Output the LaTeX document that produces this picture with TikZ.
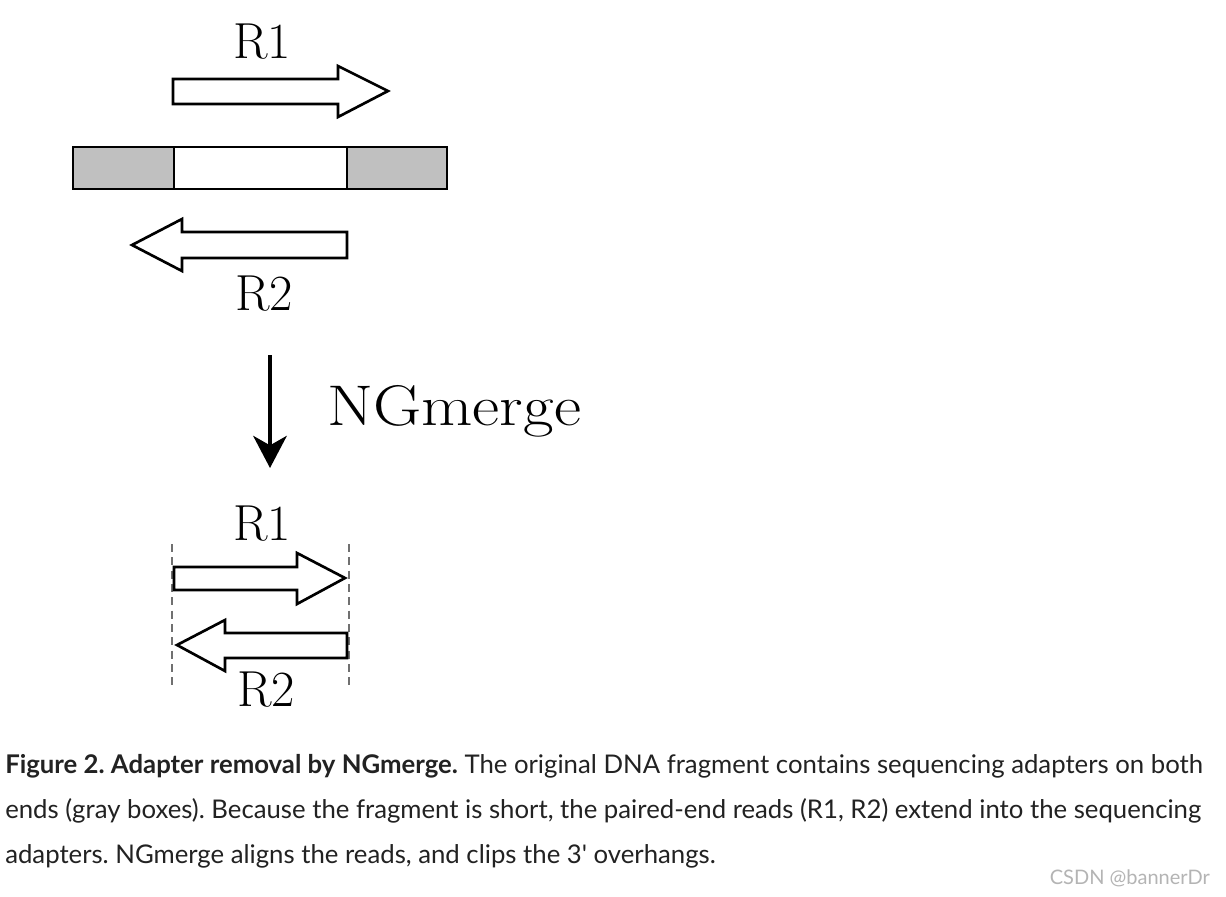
\documentclass[tikz,border=0pt]{standalone}
\usepackage{fontspec}
\usetikzlibrary{arrows.meta}
\newfontfamily\capfont{Lato}
\newfontfamily\wmfont{Lato}
\newfontfamily\ngfont[FakeStretch=1.16]{Latin Modern Roman}
\definecolor{adgray}{HTML}{C0C0C0}
\definecolor{dashgray}{HTML}{707070}
\definecolor{wmgray}{HTML}{B4B4B4}
\definecolor{captext}{HTML}{222222}
\tikzset{
  readarrow/.style={draw=black, fill=white, line width=2pt, line join=miter},
  barpart/.style={draw=black, line width=2.1pt},
  lbl/.style={inner sep=0pt, font=\fontsize{38}{40}\selectfont, anchor=base},
  guide/.style={draw=dashgray, line width=2pt, dash pattern=on 6pt off 4pt},
  capline/.style={inner sep=0pt, anchor=base west, text=captext, font=\capfont\fontsize{19.3}{22}\selectfont\frenchspacing},
}
\begin{document}
\begin{tikzpicture}[x=0.75pt, y=-0.75pt]
\useasboundingbox[fill=white] (0,0) rectangle (1226,896);
% top labels
\node[lbl] (r1top) at (262,58) {R1};
% R1 arrow
\draw[readarrow] (173,79) -- (338,79) -- (338,66) -- (388,91) -- (338,117) -- (338,104) -- (173,104) -- cycle;
% fragment
\draw[barpart, fill=adgray] (73,147) rectangle (174,189);
\draw[barpart, fill=white] (174,147) rectangle (347,189);
\draw[barpart, fill=adgray] (347,147) rectangle (447,189);
% R2 arrow
\draw[readarrow] (347,232) -- (182,232) -- (182,219) -- (132,245) -- (182,271) -- (182,258) -- (347,258) -- cycle;
\node[lbl] (r2top) at (264,310) {R2};
% down arrow
\coordinate (dstart) at (270,355);
\coordinate (dend) at (270,468);
\draw[line width=3.6pt, -{Stealth[length=24pt, width=25pt, inset=7pt]}] (dstart) -- (dend);
\node[inner sep=0pt, anchor=base west, font=\ngfont\fontsize{43}{46}\selectfont] (ng) at (327,425) {NGmerge};
% bottom
\node[lbl] (r1bot) at (262,540) {R1};
\coordinate (gl1) at (172,544); \coordinate (gl2) at (172,686);
\coordinate (gr1) at (349,544); \coordinate (gr2) at (349,686);
\draw[guide] (gl1) -- (gl2);
\draw[guide] (gr1) -- (gr2);
\draw[readarrow] (174,567) -- (297,567) -- (297,553) -- (345,578) -- (297,604) -- (297,590) -- (174,590) -- cycle;
\draw[readarrow] (347,633) -- (225,633) -- (225,620) -- (177,645) -- (225,671) -- (225,658) -- (347,658) -- cycle;
\node[lbl] (r2bot) at (266,706) {R2};
% caption
\node[capline] (c1) at (5,773) {\textbf{Figure 2. Adapter removal by NGmerge.} The original DNA fragment contains sequencing adapters on both};
\node[capline] (c2) at (5,818) {ends (gray boxes). Because the fragment is short, the paired-end reads (R1, R2) extend into the sequencing};
\node[capline] (c3) at (5,863) {adapters. NGmerge aligns the reads, and clips the 3' overhangs.};
\node[inner sep=0pt, anchor=base east, text=wmgray, font=\wmfont\fontsize{15}{17}\selectfont] (wm) at (1210,884) {CSDN @bannerDr};
\end{tikzpicture}
\end{document}
